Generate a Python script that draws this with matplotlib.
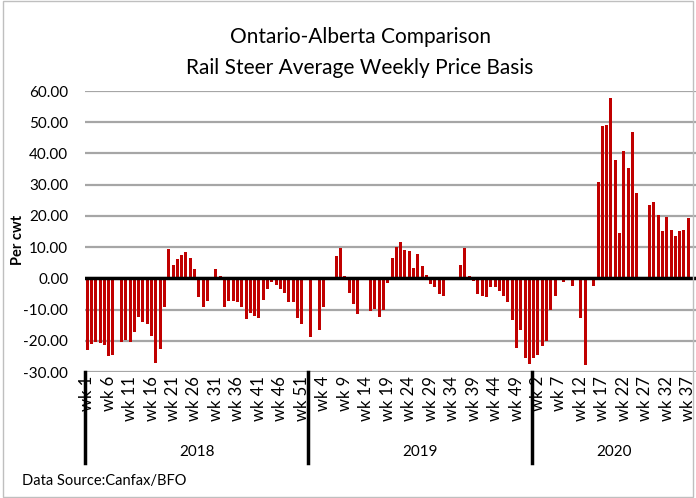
import numpy as np
import matplotlib.pyplot as plt
from matplotlib.patches import Rectangle
from matplotlib.transforms import blended_transform_factory

nan = np.nan

# weekly basis, $/cwt (blank weeks = nan)
basis_2018 = [
    -22.9, -21.1, -20.3, -20.7, -21.4, -25.0, -24.6, nan, -20.3, -19.8,
    -20.3, -17.3, -12.5, -14.1, -14.5, -18.6, -27.0, -22.5, -9.3, 9.5,
    4.3, 6.3, 7.4, 8.4, 6.6, 2.9, -6.1, -9.2, -7.1, nan,
    2.9, 0.9, -9.2, -7.1, -7.1, -7.6, -9.3, -13.1, -11.0, -12.1,
    -12.6, -6.9, -3.4, -1.3, -2.0, -3.4, -4.8, -7.7, -7.7, -12.6,
    -14.7, nan,
]
basis_2019 = [
    -18.9, nan, -16.5, -9.2, nan, nan, 7.0, 9.8, 0.6, -4.7,
    -8.2, -11.4, nan, nan, -10.6, -9.9, -12.3, -10.2, -1.5, 6.6,
    10.1, 11.5, 9.0, 8.7, 3.4, 7.9, 3.8, 1.1, -1.9, -2.8,
    -5.0, -5.5, nan, nan, nan, 4.2, 9.8, 0.6, -0.8, -5.0,
    -5.7, -6.1, -2.7, -2.7, -4.0, -5.5, -7.7, -13.3, -22.4, -16.5,
    -25.4, -27.5,
]
basis_2020 = [
    -25.5, -24.6, -21.8, -20.0, -10.0, -5.5, nan, -1.2, nan, -2.3,
    nan, -12.6, -27.7, nan, -2.6, 31.0, 48.7, 49.0, 57.7, 38.0,
    14.4, 40.8, 35.2, 47.0, 27.2, nan, nan, 23.5, 24.3, 20.3,
    15.1, 19.6, 15.4, 13.7, 15.1, 15.4, 19.3,
]
years = ['2018', '2019', '2020']
groups = [basis_2018, basis_2019, basis_2020]

values = np.array(basis_2018 + basis_2019 + basis_2020)
week_labels = []
for g in groups:
    week_labels += ['wk %d' % (i + 1) for i in range(len(g))]
x = np.arange(len(values))

plt.rcParams['font.family'] = ['Lato', 'DejaVu Sans']

fig = plt.figure(figsize=(6.96, 4.98), dpi=100)
ax = fig.add_axes([85 / 696, 1 - 372 / 498, 611 / 696, 281 / 498])

ax.bar(x, values, width=0.7, color='#C00000', zorder=2)
ax.axhline(0, color='black', lw=2.5, zorder=3)

ax.set_ylim(-30, 60)
ax.set_xlim(-0.5, len(values) + 0.8)
ax.set_yticks(np.arange(-30, 61, 10))
ax.set_yticklabels(['%.2f' % v for v in np.arange(-30, 61, 10)], fontsize=11)
ax.yaxis.grid(True, color='#A6A6A6', lw=1.6)
ax.set_axisbelow(True)
ax.set_xticks(x[::5])
ax.set_xticklabels(week_labels[::5], rotation=90, fontsize=12, va='top')
ax.tick_params(axis='y', length=0, pad=12)
ax.tick_params(axis='x', length=0, pad=3)
for s in ax.spines.values():
    s.set_visible(False)

# year separators and labels below the week labels
trans = blended_transform_factory(ax.transData, ax.transAxes)
edges = [-0.5]
for g in groups:
    edges.append(edges[-1] + len(g))
for b in edges[:-1]:
    ax.plot([b, b], [0, -0.325], transform=trans, color='black', lw=2.5, clip_on=False)
ends = edges[:-1] + [ax.get_xlim()[1]]
for i, yr in enumerate(years):
    ax.text((ends[i] + ends[i + 1]) / 2, -0.285, yr, transform=trans,
            ha='center', va='center', fontsize=11)

fig.text(360 / 696, 1 - 37 / 498, 'Ontario-Alberta Comparison', ha='center', va='center', fontsize=15)
fig.text(360 / 696, 1 - 68 / 498, 'Rail Steer Average Weekly Price Basis', ha='center', va='center', fontsize=15)
fig.text(18 / 696, 1 - 240 / 498, 'Per cwt', rotation=90, ha='center', va='center',
         fontsize=10.5, fontweight='bold')
fig.text(22 / 696, 1 - 481 / 498, 'Data Source:Canfax/BFO', ha='left', va='center', fontsize=10.5)

fig.patches.append(Rectangle((0.004, 0.003), 0.992, 0.994, transform=fig.transFigure,
                             fill=False, edgecolor='#BFBFBF', lw=1))

fig.savefig('out.png', dpi=100)
